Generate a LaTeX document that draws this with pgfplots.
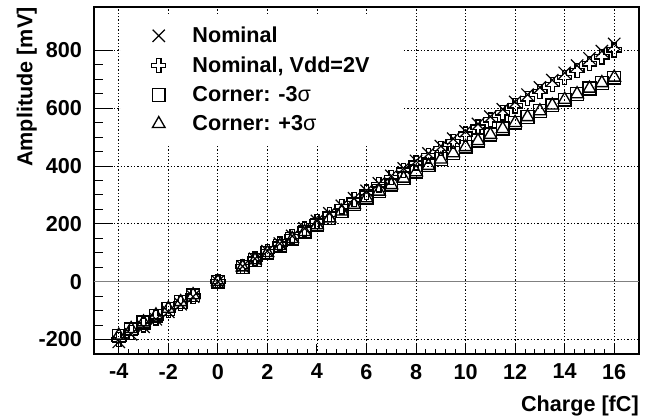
\documentclass[border=0pt]{standalone}
\usepackage{fontspec}
\setmainfont{Liberation Sans}
\usepackage{pgfplots}
\usepackage{pgfplotstable}
\pgfplotsset{compat=1.18}

\pgfdeclareplotmark{ocross}{%
  \pgfpathmoveto{\pgfpoint{-0.3\pgfplotmarksize}{\pgfplotmarksize}}%
  \pgfpathlineto{\pgfpoint{0.3\pgfplotmarksize}{\pgfplotmarksize}}%
  \pgfpathlineto{\pgfpoint{0.3\pgfplotmarksize}{0.3\pgfplotmarksize}}%
  \pgfpathlineto{\pgfpoint{\pgfplotmarksize}{0.3\pgfplotmarksize}}%
  \pgfpathlineto{\pgfpoint{\pgfplotmarksize}{-0.3\pgfplotmarksize}}%
  \pgfpathlineto{\pgfpoint{0.3\pgfplotmarksize}{-0.3\pgfplotmarksize}}%
  \pgfpathlineto{\pgfpoint{0.3\pgfplotmarksize}{-\pgfplotmarksize}}%
  \pgfpathlineto{\pgfpoint{-0.3\pgfplotmarksize}{-\pgfplotmarksize}}%
  \pgfpathlineto{\pgfpoint{-0.3\pgfplotmarksize}{-0.3\pgfplotmarksize}}%
  \pgfpathlineto{\pgfpoint{-\pgfplotmarksize}{-0.3\pgfplotmarksize}}%
  \pgfpathlineto{\pgfpoint{-\pgfplotmarksize}{0.3\pgfplotmarksize}}%
  \pgfpathlineto{\pgfpoint{-0.3\pgfplotmarksize}{0.3\pgfplotmarksize}}%
  \pgfpathclose
  \pgfusepathqstroke
}

\pgfplotstableread{
x     nom    vdd    cm3    cp3
-4    -208   -200   -188   -186
-3.5  -182   -175   -164.5 -163
-3    -156   -150   -141   -140
-2.5  -130   -125   -117.5 -116
-2    -104   -100   -94    -93
-1.5  -78    -75    -70.5  -70
-1    -52    -50    -47    -46
0     0      0      0      0
1     52.9   52.4   50.6   50.2
1.5   79.3   78.4   75.5   75.0
2     105.6  104.4  100.3  99.6
2.5   131.9  130.3  124.8  124.0
3     158.1  156.2  149.1  148.3
3.5   184.3  181.9  173.2  172.2
4     210.4  207.6  197.1  196.0
4.5   236.5  233.2  220.8  219.6
5     262.5  258.8  244.3  243.1
5.5   288.5  284.2  267.5  266.2
6     314.4  309.6  290.5  289.2
6.5   340.3  334.9  313.3  312.0
7     366.1  360.2  335.9  334.6
7.5   391.9  385.3  358.3  357.0
8     417.6  410.4  380.5  379.2
8.5   443.3  435.4  402.4  401.2
9     468.9  460.4  424.2  423.0
9.5   494.5  485.2  445.7  444.6
10    520.0  510.0  467.0  466.0
10.5  545.5  534.7  488.1  487.2
11    570.9  559.4  509.0  508.2
11.5  596.3  583.9  529.6  528.9
12    621.6  608.4  550.1  549.5
12.5  646.9  632.8  570.3  569.8
13    672.1  657.2  590.3  590.0
13.5  697.3  681.4  610.1  609.9
14    722.4  705.6  629.7  629.6
14.5  747.5  729.7  649.1  649.1
15    772.5  753.8  668.3  668.4
15.5  797.5  777.7  687.2  687.4
16    822.4  801.6  705.9  706.2
}\datatable

\newcommand{\lblfont}{\bfseries\fontsize{16.2}{18}\selectfont}

\begin{document}
\begin{tikzpicture}
\begin{axis}[
  name=ax,
  scale only axis,
  width=408.75pt, height=260.25pt,
  xmin=-5, xmax=17, ymin=-250, ymax=950,
  xtick={-4,-2,...,16}, ytick={-200,0,...,800},
  minor x tick num=4, minor y tick num=3,
  tick pos=left, tick align=inside,
  axis line style={black, line width=0.9pt},
  xtick style={black, line width=0.8pt, /pgfplots/major tick length=7.5pt, /pgfplots/minor tick length=3.8pt},
  ytick style={black, line width=0.8pt, /pgfplots/major tick length=14pt, /pgfplots/minor tick length=7pt},
  grid=major,
  major grid style={black, line width=0.6pt, dash pattern=on 0.9pt off 1.6pt},
  /pgf/number format/assume math mode=true,
  tick label style={font=\lblfont},
  yticklabel style={xshift=-5.5pt},
  xticklabel style={yshift=-4pt},
  legend style={at={(axis cs:-3.92,921)}, anchor=north west, draw=none, fill=white,
    font=\lblfont, row sep=5pt, inner xsep=23pt, inner ysep=6.5pt,
    /tikz/every odd column/.append style={column sep=18pt}},
  legend cell align=left,
]
\addplot[gray, line width=1pt, forget plot] coordinates {(-5,0) (17,0)};
\addplot[only marks, mark=x, mark size=6.5pt, line width=0.9pt, black] table[x=x, y=nom] {\datatable};
\addlegendentry{Nominal}
\addplot[only marks, mark=ocross, mark size=5.3pt, line width=1pt, black] table[x=x, y=vdd] {\datatable};
\addlegendentry{Nominal, Vdd=2V}
\addplot[only marks, mark=square, mark size=4.8pt, line width=1pt, black] table[x=x, y=cm3] {\datatable};
\addlegendentry{Corner: -3{\mdseries σ}}
\addplot[only marks, mark=triangle, mark size=5.5pt, line width=1pt, black] table[x=x, y=cp3] {\datatable};
\addlegendentry{Corner: +3{\mdseries σ}}
\end{axis}
\node[rotate=90, anchor=south east, inner sep=0pt, font=\lblfont] at ([xshift=-42.75pt]ax.north west) {Amplitude [mV]};
\node[anchor=base east, inner sep=0pt, font=\lblfont] at ([yshift=-43.5pt]ax.south east) {Charge [fC]};
\pgfresetboundingbox
\path ([shift={(-70.5pt,-48.75pt)}]ax.south west) rectangle ([shift={(9.75pt,5.25pt)}]ax.north east);
\end{tikzpicture}
\end{document}
